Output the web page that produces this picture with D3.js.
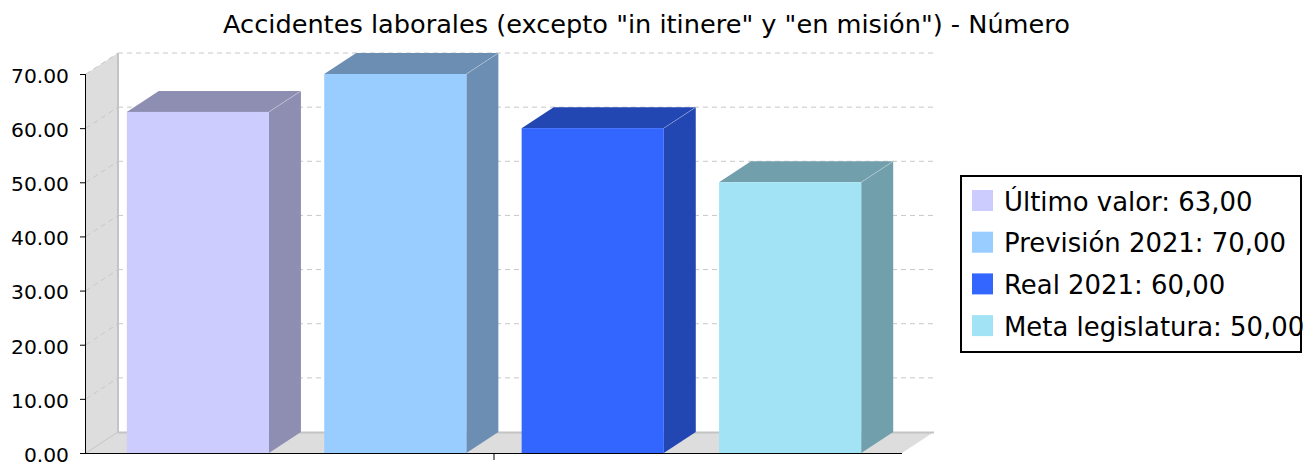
<!DOCTYPE html>
<html>
<head>
<meta charset="utf-8">
<script src="https://cdn.jsdelivr.net/npm/d3@7/dist/d3.min.js"></script>
<style>
  html, body { margin: 0; padding: 0; background: #ffffff; }
  svg { display: block; font-family: "DejaVu Sans", sans-serif; }
</style>
</head>
<body>
<svg id="chart" width="1303" height="463"></svg>
<script>
const titleText = 'Accidentes laborales (excepto "in itinere" y "en misión") - Número';
const seriesNames = ["Último valor", "Previsión 2021", "Real 2021", "Meta legislatura"];
const seriesValues = [63, 70, 60, 50];
const seriesColors = ["#CCCCFF", "#99CCFF", "#3366FF", "#A2E4F6"];
const yTicks = [0, 10, 20, 30, 40, 50, 60, 70];

const svg = d3.select("#chart");

// plot geometry (front plane)
const plotLeft = 86, plotRight = 902, plotBottom = 453, plotTop = 74;
const dx = 32, dy = 21;

const y = d3.scaleLinear().domain([0, 70]).range([plotBottom, plotTop]);
const cat = d3.scaleBand().domain(["c"]).range([plotLeft, plotRight]);
const margin = (plotRight - plotLeft) * 0.05;
const x = d3.scaleBand().domain(seriesNames)
  .range([plotLeft + margin, plotRight - margin])
  .paddingInner(0.28).paddingOuter(0);

const darker = c => { const r = d3.rgb(c); return d3.rgb(Math.floor(r.r * 0.7), Math.floor(r.g * 0.7), Math.floor(r.b * 0.7)).toString(); };

function fit(sel, target) {
  const fs = +sel.attr("font-size");
  const len = sel.node().getComputedTextLength();
  sel.attr("font-size", (fs * target / len).toFixed(2));
}

// walls
const wallFill = "#dddddd", wallEdge = "#c4c4c4";
svg.append("polygon")
  .attr("points", [[plotLeft, plotBottom], [plotLeft, y(70)], [plotLeft + dx, y(70) - dy], [plotLeft + dx, plotBottom - dy]].join(" "))
  .attr("fill", wallFill);
svg.append("polygon")
  .attr("points", [[plotLeft, plotBottom], [plotLeft + dx, plotBottom - dy], [plotRight + dx, plotBottom - dy], [plotRight, plotBottom]].join(" "))
  .attr("fill", wallFill);

// gridlines
const grid = svg.append("g");
yTicks.filter(v => v > 0).forEach(v => {
  grid.append("line")
    .attr("x1", plotLeft).attr("y1", y(v)).attr("x2", plotLeft + dx).attr("y2", y(v) - dy)
    .attr("stroke", "#c8c8c8").attr("stroke-width", 1).attr("stroke-dasharray", "5,4");
  grid.append("line")
    .attr("x1", plotLeft + dx).attr("y1", y(v) - dy).attr("x2", plotRight + dx).attr("y2", y(v) - dy)
    .attr("stroke", "#c8c8c8").attr("stroke-width", 1).attr("stroke-dasharray", "5,4");
});

// wall edges
svg.append("line").attr("x1", plotLeft + dx).attr("y1", y(70) - dy).attr("x2", plotLeft + dx).attr("y2", plotBottom - dy)
  .attr("stroke", wallEdge).attr("stroke-width", 2);
svg.append("line").attr("x1", plotLeft + dx).attr("y1", plotBottom - dy + 0.5).attr("x2", plotRight + dx).attr("y2", plotBottom - dy + 0.5)
  .attr("stroke", wallEdge).attr("stroke-width", 2);
svg.append("line").attr("x1", plotLeft).attr("y1", plotBottom).attr("x2", plotLeft + dx).attr("y2", plotBottom - dy)
  .attr("stroke", wallEdge).attr("stroke-width", 1);

// axes
const yAxis = d3.axisLeft(y).tickValues(yTicks).tickSize(6).tickPadding(11).tickFormat(d3.format(".2f"));
const gy = svg.append("g").attr("transform", `translate(${plotLeft},0)`).call(yAxis);
gy.select(".domain").attr("d", `M-0.5,${y(70)}V${plotBottom}`).attr("stroke", "#000");
gy.selectAll(".tick line").attr("stroke", "#000");
const tickTexts = gy.selectAll(".tick text").attr("font-size", 20).attr("font-family", "DejaVu Sans").attr("fill", "#000");
fit(gy.selectAll(".tick text").filter(d => d === 70), 58);
const tfs = gy.selectAll(".tick text").filter(d => d === 70).attr("font-size");
tickTexts.attr("font-size", tfs).attr("dy", 8.3);

const xAxis = d3.axisBottom(cat).tickSize(7).tickFormat("");
const gx = svg.append("g").attr("transform", `translate(0,${plotBottom})`).call(xAxis);
gx.select(".domain").attr("d", `M${plotLeft},0.5H${plotRight}`).attr("stroke", "#000");
gx.selectAll(".tick line").attr("stroke", "#000");

// bars
const bars = svg.append("g");
seriesNames.forEach((name, i) => {
  const v = seriesValues[i];
  const x0 = x(name), w = x.bandwidth();
  const y0 = y(v), yb = y(0);
  const col = seriesColors[i], dk = darker(col);
  bars.append("polygon")
    .attr("points", [[x0, y0], [x0 + dx, y0 - dy], [x0 + w + dx, y0 - dy], [x0 + w, y0]].join(" "))
    .attr("fill", dk);
  bars.append("polygon")
    .attr("points", [[x0 + w, y0], [x0 + w + dx, y0 - dy], [x0 + w + dx, yb - dy], [x0 + w, yb]].join(" "))
    .attr("fill", dk);
  bars.append("rect").attr("x", x0).attr("y", y0).attr("width", w).attr("height", yb - y0).attr("fill", col);
  bars.append("line").attr("x1", x0 + w).attr("y1", y0).attr("x2", x0 + w + dx).attr("y2", y0 - dy)
    .attr("stroke", "rgba(255,255,255,0.35)").attr("stroke-width", 0.8);
});

// title
const title = svg.append("text").attr("x", 646.5).attr("y", 33).attr("text-anchor", "middle")
  .attr("font-size", 23).attr("fill", "#000").text(titleText);
fit(title, 847);

// legend
const lg = svg.append("g");
lg.append("rect").attr("x", 961).attr("y", 176).attr("width", 340).attr("height", 176)
  .attr("fill", "#fff").attr("stroke", "#000").attr("stroke-width", 2);
const fmt = v => d3.format(".2f")(v).replace(".", ",");
seriesNames.forEach((name, i) => {
  const yy = 190 + i * 41.7;
  lg.append("rect").attr("x", 972).attr("y", yy).attr("width", 21).attr("height", 21).attr("fill", seriesColors[i]);
  const t = lg.append("text").attr("x", 1004).attr("y", yy + 20.5).attr("font-size", 26).attr("fill", "#000")
    .text(`${name}: ${fmt(seriesValues[i])}`);
  if (i === 1) fit(t, 282);
});
const lfs = lg.selectAll("text").filter((d, i) => i === 1).attr("font-size");
lg.selectAll("text").attr("font-size", lfs);
</script>
</body>
</html>
